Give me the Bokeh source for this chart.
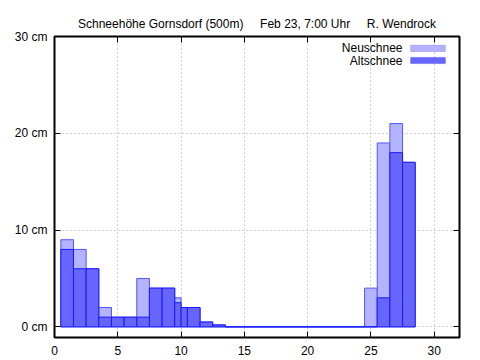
from bokeh.plotting import figure
from bokeh.models import (Range1d, FixedTicker, PrintfTickFormatter, LinearAxis,
                          BoxAnnotation, Label, ColumnDataSource)
from bokeh.embed import file_html
from bokeh.resources import INLINE

# --- data -------------------------------------------------------------
days = [1, 2, 3, 4, 5, 6, 7, 8, 9, 9.75, 10.25, 11, 12, 13,
        14, 15, 16, 17, 18, 19, 20, 21, 22, 23, 24, 25, 26, 27, 28]
widths = [1, 1, 1, 1, 1, 1, 1, 1, 1, 0.5, 0.5, 1, 1, 1,
          1, 1, 1, 1, 1, 1, 1, 1, 1, 1, 1, 1, 1, 1, 1]
total_snow = [9, 8, 6, 2, 1, 1, 5, 4, 4, 3, 2, 2, 0.5, 0.2,
              0, 0, 0, 0, 0, 0, 0, 0, 0, 0, 0, 4, 19, 21, 17]
old_snow = [8, 6, 6, 1, 1, 1, 1, 4, 4, 2.5, 2, 2, 0.5, 0.2,
            0, 0, 0, 0, 0, 0, 0, 0, 0, 0, 0, 0, 3, 18, 17]
x_ticks = [0, 5, 10, 15, 20, 25, 30]
y_ticks = [0, 10, 20, 30]
series_names = ["Neuschnee", "Altschnee"]
title_parts = ["Schneehöhe Gornsdorf (500m)", "Feb 23, 7:00 Uhr", "R. Wendrock"]

LIGHT_FILL, LIGHT_LINE = "#b3b3ff", "#5555ff"
DARK_FILL, DARK_LINE = "#6666ff", "#1a1aff"
FONT = "Liberation Sans"

sep = "\u00a0" * 5
p = figure(width=480, height=360, output_backend="svg", toolbar_location=None,
           x_range=Range1d(0, 32), y_range=Range1d(-1.1, 30),
           min_border_left=54, min_border_right=21, min_border_top=36,
           min_border_bottom=23, title=sep.join(title_parts),
           x_axis_location="below", y_axis_location="left")

p.title.align = "center"
p.title.text_font = FONT
p.title.text_font_size = "12px"
p.title.text_font_style = "normal"
p.title.text_color = "black"
p.title.standoff = 11

src = ColumnDataSource(dict(x=days, w=widths, tot=total_snow, old=old_snow))
p.vbar(x="x", width="w", top="tot", bottom=0, source=src,
       fill_color=LIGHT_FILL, line_color=LIGHT_LINE, line_width=1)
p.vbar(x="x", width="w", top="old", bottom=0, source=src,
       fill_color=DARK_FILL, line_color=DARK_LINE, line_width=1)

# axes
for ax in (p.xaxis[0], p.yaxis[0]):
    ax.major_tick_in = 6
    ax.major_tick_out = 0
    ax.minor_tick_line_color = None
    ax.axis_line_color = None
    ax.major_tick_line_color = "black"
    ax.major_label_text_font = FONT
    ax.major_label_text_font_size = "12px"
    ax.major_label_text_color = "black"

p.xaxis[0].ticker = FixedTicker(ticks=x_ticks)
p.xaxis[0].major_label_standoff = 8
p.yaxis[0].ticker = FixedTicker(ticks=y_ticks)
p.yaxis[0].formatter = PrintfTickFormatter(format="%d cm")
p.yaxis[0].major_label_standoff = 7

top_ax = LinearAxis(ticker=FixedTicker(ticks=x_ticks))
right_ax = LinearAxis(ticker=FixedTicker(ticks=y_ticks))
for ax in (top_ax, right_ax):
    ax.major_tick_in = 6
    ax.major_tick_out = 0
    ax.minor_tick_line_color = None
    ax.axis_line_color = None
    ax.major_label_text_font_size = "1px"
    ax.major_label_text_color = None
    ax.major_label_standoff = 0
    ax.major_tick_line_color = "black"
p.add_layout(top_ax, "above")
p.add_layout(right_ax, "right")

# grid
p.xgrid.ticker = FixedTicker(ticks=x_ticks)
p.ygrid.ticker = FixedTicker(ticks=y_ticks)
for g in (p.xgrid, p.ygrid):
    g.grid_line_color = "#a8a8a8"
    g.grid_line_dash = "1 3"
    g.grid_line_width = 1

p.outline_line_color = "black"
p.outline_line_width = 2
p.background_fill_color = "white"
p.border_fill_color = "white"

# legend (text left, swatch right, as in the original)
entries = [(series_names[0], LIGHT_FILL, LIGHT_LINE, 28.77),
           (series_names[1], DARK_FILL, DARK_LINE, 27.52)]
for name, fc, lc, yc in entries:
    p.add_layout(BoxAnnotation(left=28.14, right=30.88, bottom=yc - 0.32, top=yc + 0.32,
                               fill_color=fc, fill_alpha=1, line_color=lc, line_width=1))
    p.add_layout(Label(x=27.5, y=yc, text=name, text_align="right",
                       text_baseline="middle", text_font=FONT,
                       text_font_size="12px", text_color="black"))

open("out.html", "w").write(file_html(p, INLINE))
